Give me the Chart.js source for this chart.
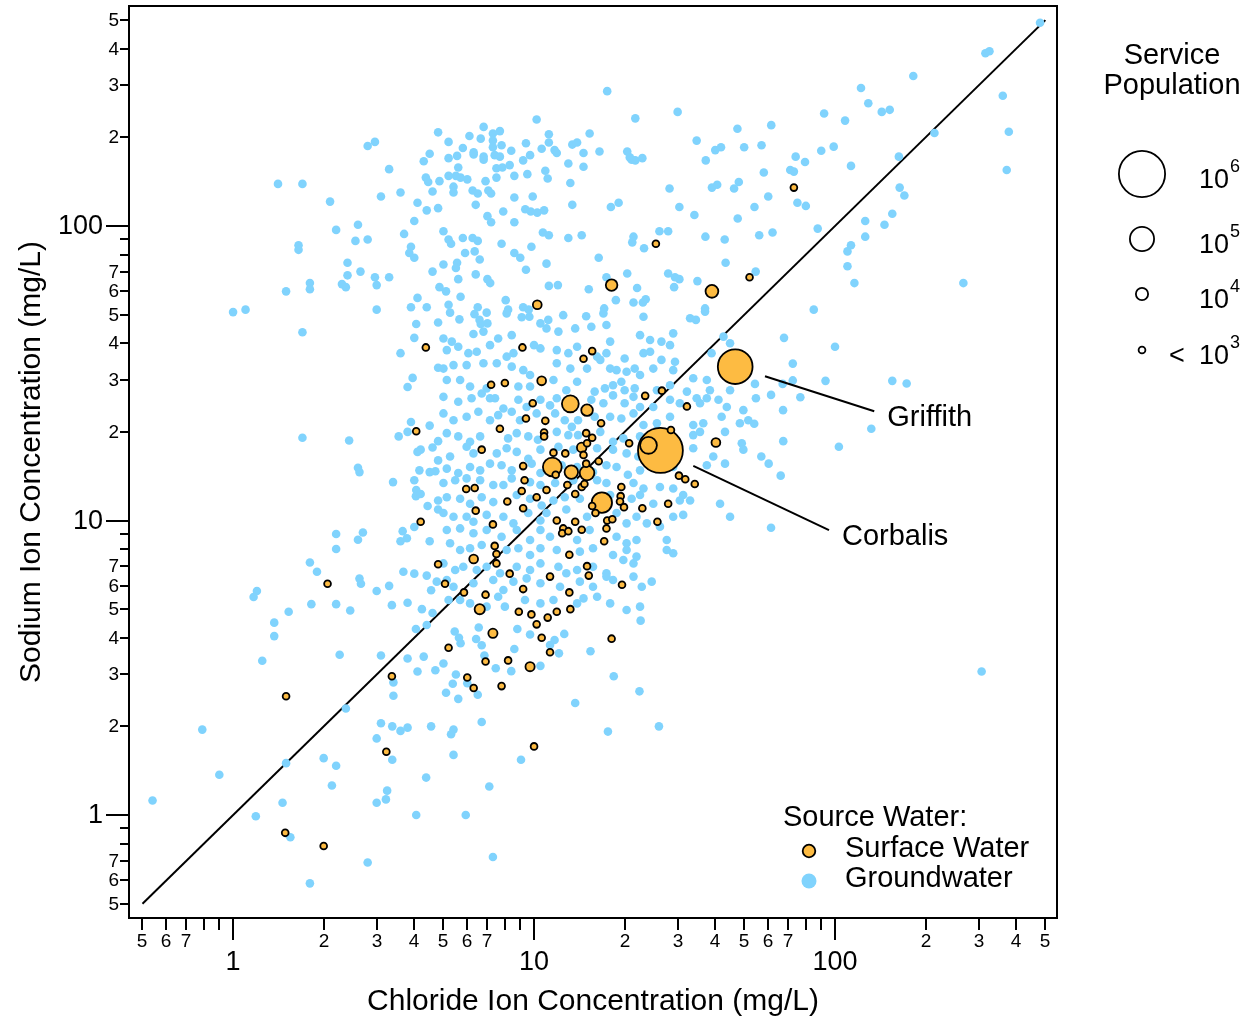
<!DOCTYPE html>
<html>
<head>
<meta charset="utf-8">
<script src="https://cdn.jsdelivr.net/npm/chart.js@4/dist/chart.umd.min.js"></script>
<style>
  html, body { margin: 0; padding: 0; background: #fff; }
  canvas { display: block; }
</style>
</head>
<body>
<canvas id="chart" width="1247" height="1020"></canvas>
<script>
// Chloride (x) vs sodium (y), mg/L
const groundwater = [
  [4.8,208],[2.96,193],[2.8,187],[4.5,176],[4.3,166],[3.3,156],[4.37,146],[4.45,141],[4.85,142],[1.41,139],[1.7,139],[4.6,131],[2.1,121],[3.1,126],[3.6,130],[4.1,120],[4.4,113],[4.8,115],[4.0,104],[2.6,101],[2.2,97],[3.7,94],[2.55,89],[2.8,90],[1.65,86],[1.65,83],[3.9,85],[3.85,81],[4.0,78],[2.4,75],[2.4,68],[2.65,70],[4.6,70],[2.96,67],[3.0,63],[3.3,67],[2.3,63.5],[2.37,62],[1.8,64],[1.8,61],[1.5,60],[4.85,62],[4.1,57],[4.4,53],[3.9,53],[3.0,52],[1.0,51],[1.1,52],
  [17.5,287],[30,244],[21.7,232],[10.2,230],[6.8,217],[7.3,206],[7.7,210],[6.1,202],[6.65,198],[7.3,195],[7.8,188],[7.3,185],[5.2,193],[11.2,205],[11.2,192],[9.4,191],[15.3,206],[13.4,189],[13.9,192],[14.6,177],[16.5,179],[11.7,181],[11.9,177],[10.6,183],[9.7,174],[9.2,167],[8.4,180],[5.8,184],[6.3,178],[6.3,175],[6.8,172],[6.8,168],[5.55,173],[5.2,170],[7.4,174],[7.7,172],[20.4,179],[21.1,168],[21.7,167],[22.9,170],[20.8,171],[34.7,195],[47.4,214],[49.9,185],[40,181],[41.8,185],[37.2,167],[13,163],[14.6,159],[10.9,154],[11.1,145],[9.5,150],[8.6,148],[7.5,157],[7.85,158],[8.3,161],[7.5,146],[5.6,158],[5.5,148],[5.2,148],[5.7,146],[6.0,144],[6.9,142],[5.4,136],[5.4,130],[6.25,132],[6.5,129],[7.05,132],[7.2,129],[13.2,140],[28.2,134],[39,135],[40.6,138],[46.2,134],[47.9,141],[9.9,126],[8.6,125],[6.4,118],[13.4,118],[18,116],[19.1,120],[30.4,116],[34.1,109],[47.5,106],[7.9,112],[9.35,114],[9.75,112],[10.25,111],[10.8,113],[7.0,108],[7.2,103],[8.6,103],[5.0,96],[5.2,90],[5.3,87],[5.8,91],[6.25,91],[6.5,89],[7.8,87],[9.8,85],[10.7,95],[11.2,93],[13,91],[14.4,93],[26.1,96],[27.9,96],[21.4,92],[21.2,88],[23.2,84],[37.1,92],[43,90],[5.9,81],[6.35,82],[6.6,77],[8.6,81],[9.0,78],[11,74.5],[9.4,71],[16.4,78],[5.0,74],[5.55,75],[5.5,72],[6.4,68.5],[7.0,66],[7.15,64],[5.6,66],[20.4,69],[17.4,67],[27.9,69],[29.4,67],[30.4,66],[29.2,62],[34.9,65],[43.3,75],[11.2,62.6],[12,63],[15.2,61],[22,61.6],[18.7,56],[21.4,55],[23,55],[23.5,56.4],[5.1,60],[5.7,57.5],[8.05,56],[5.2,54],[6.5,53],[9.2,53],[8.2,52],[9.6,52],[17.1,52.5],[37,52.5],
  [480,490],[316,386],[326,392],[182,323],[122,294],[129,261],[143,244],[152,248],[92,241],[108,228],[61.4,220],[361,277],[378,209],[214,207],[57,188],[74,172],[79.5,165],[90,180],[99,186],[163,172],[113,160],[372,155],[71,155],[73,153],[58,152],[164,135],[170,127],[60,126],[54,116],[75,120],[80,117],[155,110],[146,101],[126,104],[126,92],[87.6,98],[56,93],[62,95],[113,86],[110,82],[110,73],[116,64],[267,64],[85,52],[54.5,70],
  [1.7,43.6],[4.06,46.5],[4.0,41.7],[4.8,47],[3.6,37],[4.8,33],[3.95,30.5],[3.8,28.4],[1.7,19.1],[2.43,18.7],[3.9,21.6],[3.8,20],[3.55,19.3],[4.5,21],[4.8,18.6],[4.6,17.7],[4.1,17.1],[4.2,17.4],[4.8,16],[2.6,15.1],[2.63,14.6],[4.16,14.8],[4.5,14.6],[4.7,14.7],[3.4,13.5],[4.0,13.7],[4.06,12.7],[4.05,12.1],[4.2,12.3],[4.43,11.2],[4.8,11.7],[4.8,10.9],[4.0,9.5],[4.5,8.5],[2.2,9.0],[2.7,9.1],[2.6,8.6],[2.2,8.0],[3.66,9.2],[3.78,8.7],[3.6,8.5],[1.8,7.2],[1.9,6.7],[1.2,5.76],[1.17,5.5],[2.63,6.35],[2.66,6.1],[3.0,5.76],[3.3,6.0],[3.68,6.7],[4.0,6.6],[4.4,6.5],[4.75,6.2],[4.55,5.8],[1.82,5.2],[2.2,5.2],[1.53,4.9],[2.45,4.95],[3.37,5.16],[3.8,5.26],[4.24,5.0],[4.6,4.85],
  [5.26,50.8],[5.65,48.2],[6.34,50.2],[6.59,48.0],[6.96,50.8],[8.11,50.5],[9.1,49.0],[9.65,49.2],[11.15,48.0],[12.5,49.8],[14.9,49.4],[17.0,50.5],[23.1,49.2],[33.0,48.6],[34.5,48.0],[37.0,51.2],[6.65,46.5],[7.0,46.7],[10.5,46.7],
  [5.33,40.5],[6.29,43.0],[6.79,43.8],[7.6,41.5],[8.43,42.6],[10.0,39.4],[11.0,44.9],[12.05,43.8],[13.7,44.9],[15.5,45.5],[17.4,46.1],[17.9,40.5],[22.5,42.6],[24.3,41.0],[26.5,40.5],[29.0,43.2],[28.3,39.4],[42.6,42.1],[44.8,40.0],[5.0,41.5],
  [5.13,37.9],[5.6,38.9],[6.05,37.0],[6.45,37.4],[7.14,39.4],[8.11,36.0],[8.54,37.0],[10.5,38.4],[11.9,37.9],[13.0,37.0],[13.9,38.9],[16.2,36.0],[17.4,37.0],[20.0,35.5],[23.1,37.0],[24.3,37.4],[26.5,35.1],[29.4,34.6],[38.9,37.0],
  [5.0,32.8],[5.4,33.7],[5.97,33.7],[6.79,34.2],[7.52,34.2],[8.43,33.3],[9.21,32.4],[9.7,31.2],[11.9,34.2],[13.2,32.8],[15.0,32.8],[16.6,35.1],[17.9,32.8],[18.8,32.4],[20.3,32.0],[21.6,32.8],[22.5,31.2],[24.9,32.8],[29.0,32.4],[33.8,30.4],[37.5,30.0],[42.6,32.0],[49.0,31.2],[50.9,32.8],
  [5.13,30.0],[5.68,30.0],[6.13,28.5],[6.7,27.0],[6.96,28.1],[7.42,26.0],[8.87,28.5],[9.7,28.5],[11.6,30.0],[12.8,27.7],[13.9,29.6],[15.9,27.4],[17.2,28.1],[18.3,28.8],[19.5,29.6],[20.0,27.7],[21.6,28.1],[25.6,27.7],[28.3,28.8],[32.2,27.4],[34.7,26.0],[38.4,27.7],[41.0,25.7],[44.8,27.7],
  [5.0,26.3],[5.6,25.3],[6.2,26.0],[7.14,26.0],[7.91,24.0],[8.87,25.7],[9.45,24.3],[10.5,25.7],[11.3,24.6],[11.9,26.0],[15.5,25.7],[17.0,25.0],[18.3,26.6],[20.0,25.0],[21.4,26.3],[22.5,24.3],[24.9,24.3],[28.3,25.7],[30.5,25.0],[35.6,25.0],[37.5,26.0],[43.7,24.3],[49.6,23.7],
  [5.0,23.1],[5.4,21.9],[5.97,22.5],[6.53,23.4],[7.14,21.9],[7.6,22.8],[8.43,23.4],[8.98,21.9],[10.2,23.1],[11.75,23.1],[12.65,21.9],[13.35,20.8],[14.0,21.9],[15.9,22.5],[17.9,22.5],[19.5,22.2],[21.4,23.1],[23.1,21.1],[25.6,21.4],[28.3,22.5],[33.8,21.1],[36.5,21.4],[42.0,22.5],[48.3,21.4],[51.5,21.9],
  [5.13,19.8],[5.6,19.3],[6.13,18.5],[6.62,19.3],[8.2,19.0],[8.76,19.8],[9.57,19.3],[10.3,18.8],[11.9,20.0],[13.0,19.5],[14.0,19.5],[16.6,20.0],[18.3,18.5],[19.8,19.0],[22.5,19.3],[25.6,20.3],[29.0,18.5],[33.8,19.5],[35.6,20.0],[43.1,20.0],[49.0,18.3],
  [5.26,16.5],[5.97,17.8],[6.29,16.9],[7.52,16.9],[8.11,17.6],[8.76,17.1],[9.57,16.2],[10.5,17.4],[12.05,17.8],[13.5,17.4],[16.2,17.6],[18.3,17.4],[20.3,16.9],[22.2,16.5],[33.8,17.6],[39.4,16.5],[43.1,15.6],[49.6,17.4],
  [5.13,15.0],[5.6,14.5],[6.13,15.2],[6.62,14.8],[7.14,15.6],[7.8,15.4],[8.43,14.8],[9.82,15.6],[10.5,14.5],[12.35,15.4],[13.9,15.2],[15.7,14.6],[17.4,15.4],[18.8,15.2],[20.5,14.3],[22.5,14.8],[24.9,15.4],[29.0,15.2],[37.5,15.4],
  [5.0,13.4],[5.47,13.7],[5.97,13.9],[6.62,13.7],[7.32,13.2],[7.91,13.2],[8.43,13.9],[9.7,13.5],[10.5,13.2],[11.75,13.4],[13.5,13.7],[16.2,13.7],[17.4,13.4],[21.4,13.4],[23.1,12.85],[26.2,13.0],[29.0,12.85],[31.3,12.2],
  [5.13,12.0],[5.68,11.85],[6.13,11.4],[6.7,12.0],[7.32,11.55],[8.76,12.2],[9.7,11.85],[10.6,11.25],[11.6,11.7],[12.65,12.0],[14.2,11.85],[17.9,12.2],[21.1,11.85],[22.5,12.2],[24.9,11.4],[30.5,11.7],[33.0,11.7],[41.5,11.4],[44.8,10.3],
  [5.0,10.6],[5.4,10.3],[5.97,10.3],[6.29,9.9],[6.96,10.45],[7.91,10.3],[8.54,9.78],[9.57,10.6],[10.5,10.0],[11.0,10.6],[12.8,10.9],[15.0,10.3],[18.8,10.6],[20.3,9.78],[21.9,10.3],[23.7,9.78],[26.2,9.53],[29.0,10.3],[31.3,10.45],
  [5.13,9.28],[5.68,9.4],[6.29,9.05],[6.96,9.28],[7.8,8.81],[8.76,9.28],[9.7,8.59],[10.5,9.28],[11.3,8.81],[13.9,8.59],[15.3,9.28],[18.8,8.81],[20.3,8.37],[21.9,8.59],[27.6,8.59],[29.0,7.74],
  [5.26,8.37],[5.68,7.94],[6.13,8.05],[6.7,8.26],[8.11,7.94],[8.87,8.05],[9.7,7.64],[10.5,8.05],[11.9,7.94],[14.2,7.84],[15.7,8.05],[18.3,7.64],[20.3,7.94],[21.9,7.54],[27.6,7.94],
  [5.0,7.15],[5.47,6.79],[5.82,6.97],[6.45,6.79],[6.96,6.97],[7.71,6.62],[8.76,6.97],[9.7,6.79],[10.5,7.15],[12.05,6.97],[12.8,6.62],[13.9,6.79],[15.7,6.97],[17.4,6.62],[19.8,7.34],[21.4,7.15],
  [5.13,6.28],[5.4,5.96],[6.29,6.12],[7.32,6.28],[7.91,5.81],[8.54,6.2],[9.45,6.36],[10.5,6.12],[12.2,5.96],[14.2,6.2],[15.7,5.96],[17.4,6.45],[18.3,6.28],[21.4,6.45],[22.8,5.96],[24.6,6.2],
  [5.2,5.37],[5.68,5.37],[6.13,5.23],[6.96,5.1],[7.6,5.51],[8.0,5.1],[9.33,5.37],[10.5,5.23],[11.6,5.37],[13.9,5.23],[14.6,5.44],[16.2,5.51],[17.9,5.23],[20.3,4.97],[22.5,5.1],
  [67.7,41.7],[100,38.9],[72.4,34.1],[72.4,29.9],[67,29.1],[54.2,29.1],[54.6,26],[61.3,26.7],[76.7,26.2],[93,29.8],[155,29.8],[173,29.2],[67.2,23.7],[53.9,21.3],[132,20.5],[67.3,18.6],[103,17.8],[56.9,16.5],[60.2,15.6],[66,14.2],[61.3,9.45],
  [1.37,4.5],[1.37,4.05],[1.25,3.34],[2.26,3.5],[3.1,3.48],[3.8,3.4],[4.3,3.45],[4.1,3.07],[4.7,3.1],[4.05,4.28],[4.4,4.42],[3.41,2.82],[3.41,2.54],[2.37,2.3],[0.79,1.95],[0.9,1.37],[0.54,1.12],[3.1,2.05],[3.38,2.0],[3.6,1.93],[3.8,1.98],[4.55,2.0],[3.0,1.82],[3.38,1.54],[1.5,1.5],[2.0,1.56],[2.2,1.47],[2.13,1.26],[4.38,1.34],[3.25,1.21],[3.22,1.13],[3.0,1.1],[1.46,1.1],[1.19,0.99],[4.06,1.0],[1.55,0.84],[2.8,0.69],[1.8,0.586],
  [6.55,4.33],[5.45,4.2],[5.63,4.0],[5.7,3.83],[6.42,3.96],[6.7,3.77],[8.8,4.28],[9.7,4.1],[8.6,3.66],[11.7,3.93],[11.3,3.78],[12.1,3.54],[12.6,4.12],[5.0,3.27],[7.46,3.15],[8.4,3.08],[10.5,3.21],[5.5,3.0],[5.37,2.79],[5.1,2.6],[5.6,2.48],[6.5,2.56],[6.0,2.8],[6.84,3.48],[15.4,3.6],[18.4,2.96],[22.4,2.63],[22.6,4.57],[13.7,2.4],[17.6,1.92],[26,2.0],[6.7,2.07],[5.4,1.95],[5.3,1.88],[5.4,1.6],[9.05,1.54],[7.1,1.25],[5.93,1.0],[7.3,0.72],
  [307,3.07]
];

// [chloride, sodium, service population]
const surfaceWater = [
  [25.4,87,600],[18.1,63,8400],[39,60,11600],[10.25,54,3500],[52,67,600],[73,135,600],
  [4.37,38.7,600],[4.06,20.1,600],[4.2,9.9,600],[4.8,7.1,600],[2.06,6.1,600],
  [9.15,38.7,600],[15.6,37.6,600],[14.6,35.4,600],[7.2,28.9,600],[8.0,29.3,600],[10.6,29.8,3500],[13.2,24.9,29000],[15,23.7,8400],[9.9,25,600],[9.4,22.2,600],
  [10.9,21.8,600],[16.7,21.4,600],[7.7,20.5,600],[10.8,19.9,600],[10.8,19.3,600],[14.9,19.8,600],[15.6,19.1,600],[15,18.3,600],[14.4,17.7,4500],[14.6,16.7,600],
  [12.7,16.9,600],[11.6,17,600],[6.7,17.4,600],[23.4,26.5,600],[26.6,27.6,600],[32.2,24.4,600],[28.5,20.3,600],[20.7,18.3,600],[24,18,29000],[26.3,17.3,900000],
  [46.6,33.3,360000],[40.2,18.4,3500],[11.5,15.2,42000],[11.8,14.3,600],[13.3,14.6,14000],[15,14.5,18000],[14.9,15.6,600],[16.4,15.9,600],[9.2,15.3,600],[9.3,13.7,600],
  [9.1,12.6,600],[9.2,11,600],[10.2,12,600],[11,12.7,600],[8.15,11.6,600],[6.4,10.8,600],[5.95,12.8,600],[6.35,12.9,600],[12.9,13.2,600],[13.7,12.3,600],
  [14.4,13.0,600],[14.7,13.3,600],[16.8,11.5,55000],[15.6,11.2,600],[16,10.6,600],[19.5,13,600],[19.4,12.1,600],[19.3,11.6,600],[19.9,11.1,600],[22.9,11,600],
  [27.9,11.4,600],[25.7,9.9,600],[30.3,14.2,600],[31.8,13.8,600],[34.2,13.3,600],[7.3,9.7,600],[11.9,10,600],[13.7,9.9,600],[12.5,9.4,600],[12.4,9.05,600],
  [13,9.2,600],[14.4,9.3,600],[17.5,10,600],[18.2,10.1,600],[17.4,9.4,600],[17.1,8.5,600],[7.4,8.2,600],[7.5,7.7,600],[7.5,7.15,600],[6.3,7.4,3500],
  [8.3,6.6,600],[11.3,6.45,600],[13.1,7.65,600],[15,7.0,600],[15.2,6.5,600],[19.6,6.05,600],[5.06,6.1,600],[5.85,5.7,600],[6.9,5.6,600],[9.2,5.85,600],
  [13.1,5.7,600],[6.6,5.0,5600],[8.9,4.9,600],[9.8,4.8,600],[11.9,4.9,600],[13.2,5.0,600],
  [1.5,2.53,600],[3.37,2.96,600],[3.23,1.64,600],[1.49,0.87,600],[2.0,0.785,600],
  [5.2,3.7,600],[7.3,4.14,4000],[10.2,4.44,600],[10.6,4.0,600],[11.3,3.57,600],[18.1,3.97,600],[6.9,3.32,600],[8.2,3.35,600],[9.7,3.19,4000],[6.0,2.93,600],
  [6.3,2.7,600],[7.8,2.74,600],[10,1.71,600],[11.1,4.68,600]
];

const oneToOne = [0.5, 500];

const axisTicks = [0.5,0.6,0.7,0.8,0.9,1,2,3,4,5,6,7,8,9,10,20,30,40,50,60,70,80,90,100,200,300,400,500];
const axisTickLabels = ['5','6','7','','','1','2','3','4','5','6','7','','','10','2','3','4','5','6','7','','','100','2','3','4','5'];
const majorTicks = [1, 10, 100];

const legendPops = [1e6, 1e5, 1e4, 1e3];
const legendPopLabels = [['', '6'], ['', '5'], ['', '4'], ['< ', '3']];

const labelled = [
  { name: 'Griffith', cl: 46.6, na: 33.3, pop: 360000, tipCl: 135, tipNa: 23.5 },
  { name: 'Corbalis', cl: 26.3, na: 17.3, pop: 900000, tipCl: 95.5, tipNa: 9.28 }
];

const BLUE = '#80D3FD';
const ORANGE = '#FDBB42';
const FONT = '"Liberation Sans", Arial, Helvetica, sans-serif';

// outer radius of a surface-water marker for a service population
function popRadius(p) {
  return Math.max(4.3, 24 * Math.pow(p / 1e6, 0.267));
}

const surfaceSorted = surfaceWater
  .map(d => ({ x: d[0], y: d[1], pop: d[2] }))
  .sort((a, b) => b.pop - a.pop);

const decorPlugin = {
  id: 'decor',
  afterDraw(chart) {
    const { ctx, chartArea: a } = chart;
    const xs = chart.scales.x, ys = chart.scales.y;
    ctx.save();
    ctx.fillStyle = '#000';
    ctx.strokeStyle = '#000';

    // frame
    ctx.lineWidth = 2;
    ctx.strokeRect(a.left, a.top, a.right - a.left, a.bottom - a.top);

    // x ticks + labels
    axisTicks.forEach((v, i) => {
      const px = Math.round(xs.getPixelForValue(v));
      const major = majorTicks.includes(v);
      ctx.lineWidth = 2;
      ctx.beginPath();
      ctx.moveTo(px, a.bottom);
      ctx.lineTo(px, a.bottom + (major ? 22 : 12));
      ctx.stroke();
      ctx.textAlign = 'center';
      ctx.textBaseline = 'middle';
      if (major) {
        ctx.font = '27px ' + FONT;
        ctx.fillText(axisTickLabels[i], px, a.bottom + 45);
      } else if (axisTickLabels[i]) {
        ctx.font = '19px ' + FONT;
        ctx.fillText(axisTickLabels[i], px, a.bottom + 24);
      }
    });

    // y ticks + labels
    axisTicks.forEach((v, i) => {
      const py = Math.round(ys.getPixelForValue(v));
      const major = majorTicks.includes(v);
      ctx.lineWidth = 2;
      ctx.beginPath();
      ctx.moveTo(a.left, py);
      ctx.lineTo(a.left - (major ? 23 : 9), py);
      ctx.stroke();
      ctx.textAlign = 'right';
      ctx.textBaseline = 'middle';
      if (major) {
        ctx.font = '27px ' + FONT;
        ctx.fillText(axisTickLabels[i], a.left - 26, py + 1);
      } else if (axisTickLabels[i]) {
        ctx.font = '19px ' + FONT;
        ctx.fillText(axisTickLabels[i], a.left - 10, py + 1);
      }
    });

    // axis titles
    ctx.font = '30px ' + FONT;
    ctx.textAlign = 'center';
    ctx.textBaseline = 'middle';
    ctx.fillText('Chloride Ion Concentration (mg/L)', (a.left + a.right) / 2, 1002);
    ctx.save();
    ctx.translate(32, (a.top + a.bottom) / 2);
    ctx.rotate(-Math.PI / 2);
    ctx.fillText('Sodium Ion Concentration (mg/L)', 0, 0);
    ctx.restore();

    // leader lines to named systems
    labelled.forEach(l => {
      const cx = xs.getPixelForValue(l.cl), cy = ys.getPixelForValue(l.na);
      const ex = xs.getPixelForValue(l.tipCl), ey = ys.getPixelForValue(l.tipNa);
      const d = Math.hypot(ex - cx, ey - cy);
      const r = popRadius(l.pop) + 13;
      ctx.lineWidth = 2;
      ctx.beginPath();
      ctx.moveTo(cx + (ex - cx) / d * r, cy + (ey - cy) / d * r);
      ctx.lineTo(ex, ey);
      ctx.stroke();
      ctx.font = '29px ' + FONT;
      ctx.textAlign = 'left';
      ctx.textBaseline = 'middle';
      ctx.fillText(l.name, ex + 13, ey + 7);
    });

    // service population legend
    ctx.font = '29px ' + FONT;
    ctx.textAlign = 'center';
    ctx.fillText('Service', 1172, 56);
    ctx.fillText('Population', 1172, 86);
    const legendY = [174, 239, 294, 350];
    legendPops.forEach((p, i) => {
      ctx.lineWidth = 1.8;
      ctx.beginPath();
      ctx.arc(1142, legendY[i], popRadius(p) - 0.9, 0, Math.PI * 2);
      ctx.stroke();
      ctx.textAlign = 'left';
      ctx.textBaseline = 'alphabetic';
      ctx.font = '27px ' + FONT;
      const base = legendY[i] + 14;
      if (legendPopLabels[i][0]) {
        ctx.fillText('<', 1169, base);
      }
      ctx.fillText('10', 1199, base);
      ctx.font = '18px ' + FONT;
      ctx.fillText(legendPopLabels[i][1], 1230, base - 16);
    });

    // source water legend
    ctx.font = '29px ' + FONT;
    ctx.textAlign = 'left';
    ctx.textBaseline = 'middle';
    ctx.fillText('Source Water:', 783, 818);
    ctx.fillText('Surface Water', 845, 849);
    ctx.fillText('Groundwater', 845, 879);
    ctx.fillStyle = ORANGE;
    ctx.lineWidth = 1.8;
    ctx.beginPath();
    ctx.arc(809, 851, 6.3, 0, Math.PI * 2);
    ctx.fill();
    ctx.stroke();
    ctx.fillStyle = BLUE;
    ctx.beginPath();
    ctx.arc(809, 881, 7.5, 0, Math.PI * 2);
    ctx.fill();

    ctx.restore();
  }
};

new Chart(document.getElementById('chart').getContext('2d'), {
  type: 'scatter',
  data: {
    datasets: [
      {
        label: 'Surface Water',
        data: surfaceSorted,
        backgroundColor: ORANGE,
        borderColor: '#000',
        borderWidth: 1.8,
        pointRadius: c => popRadius(c.raw.pop) - 0.9,
        order: 1
      },
      {
        label: 'Groundwater',
        data: groundwater.map(d => ({ x: d[0], y: d[1] })),
        backgroundColor: BLUE,
        borderWidth: 0,
        pointRadius: 4.3,
        order: 2
      },
      {
        type: 'line',
        label: '1:1',
        data: oneToOne.map(v => ({ x: v, y: v })),
        borderColor: '#000',
        borderWidth: 2,
        pointRadius: 0,
        order: 3
      }
    ]
  },
  options: {
    responsive: false,
    devicePixelRatio: 1,
    animation: false,
    events: [],
    layout: { autoPadding: false, padding: { left: 129, right: 190, top: 6, bottom: 102 } },
    plugins: { legend: { display: false }, tooltip: { enabled: false } },
    scales: {
      x: { type: 'logarithmic', min: 0.451, max: 546.5, display: false },
      y: { type: 'logarithmic', min: 0.447, max: 558.5, display: false }
    }
  },
  plugins: [decorPlugin]
});
</script>
</body>
</html>
